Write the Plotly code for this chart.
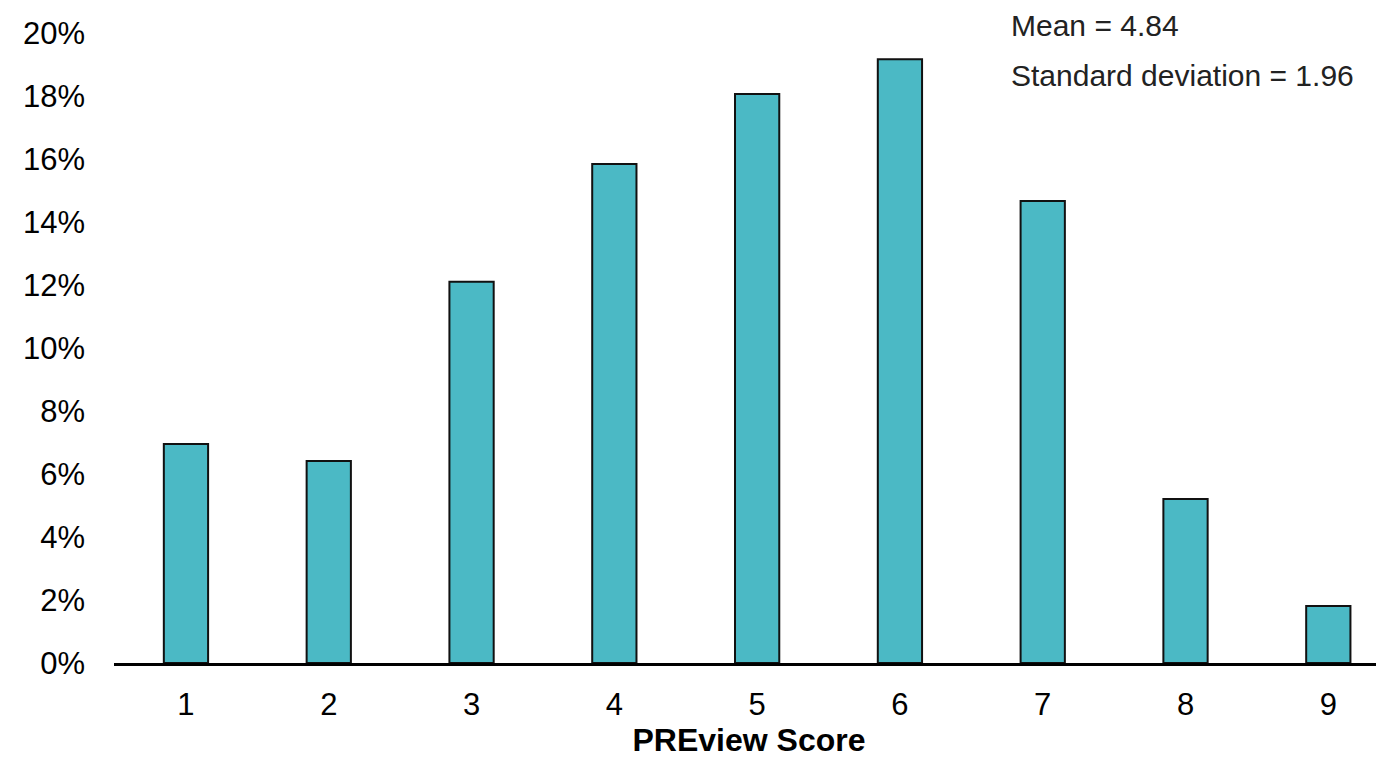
import plotly.graph_objects as go

scores = [1, 2, 3, 4, 5, 6, 7, 8, 9]
percent = [0.0695, 0.0641, 0.1210, 0.1584, 0.1806, 0.1917, 0.1467, 0.0521, 0.0181]
y_ticks = [0, 0.02, 0.04, 0.06, 0.08, 0.10, 0.12, 0.14, 0.16, 0.18, 0.20]
stats_text = ["Mean = 4.84", "Standard deviation = 1.96"]

FONT = "Liberation Sans, Arial, sans-serif"

# page body has an 8px margin; figure sized so it fits the 1384x758 window
W, H = 1376, 750
L, T = 106, 25
PLOT_W = W - L
PLOT_H = 655 - T

fig = go.Figure()
fig.add_trace(go.Bar(
    x=scores, y=percent,
    marker=dict(color="#4BB9C5", line=dict(color="#111111", width=2)),
    width=0.31,
))

fig.update_layout(
    width=W, height=H,
    margin=dict(l=L, r=0, t=T, b=H - 655),
    paper_bgcolor="white", plot_bgcolor="white",
    font=dict(family=FONT, size=31, color="black"),
    showlegend=False,
)
fig.update_xaxes(
    range=[0.496, 9.39], tickvals=scores, ticktext=[str(s) for s in scores],
    showgrid=False, zeroline=False, showline=True, linecolor="black", linewidth=3,
    ticks="", ticklabelstandoff=12, automargin=False,
    title=dict(text="<b>PREview Score</b>", font=dict(size=32), standoff=16),
)
fig.update_yaxes(
    range=[0, 0.2], tickvals=y_ticks, tickformat=".0%", automargin=False,
    showgrid=False, zeroline=False, showline=False, ticks="", ticklabelstandoff=28,
)
for i, t in enumerate(stats_text):
    fig.add_annotation(
        xref="paper", yref="paper", x=(1010 - 8 - L) / PLOT_W,
        y=1 + (33 - (25 + 50 * i)) / PLOT_H,
        text=t, showarrow=False, xanchor="left", yanchor="middle", borderpad=0,
        font=dict(size=30, color="#222222"),
    )

fig.write_html("out.html")
